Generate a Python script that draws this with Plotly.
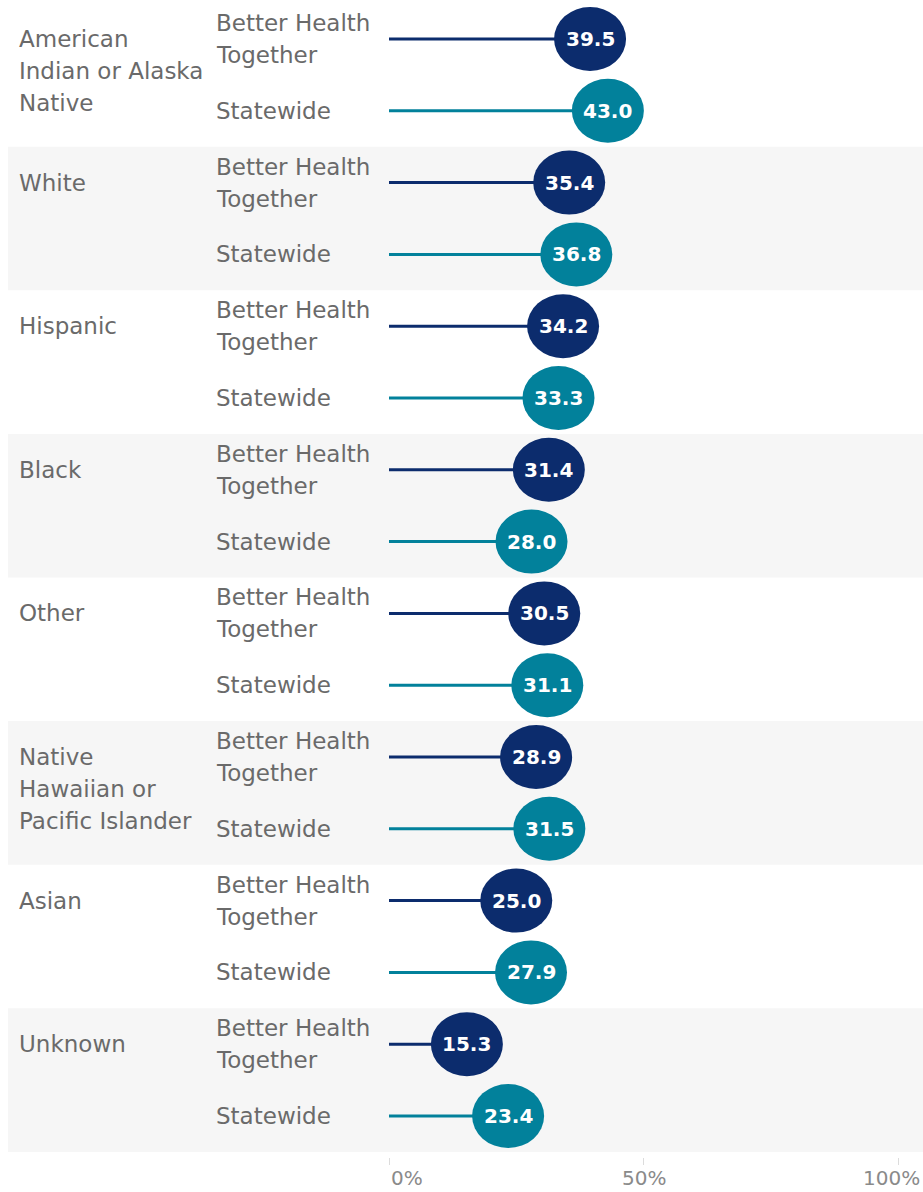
import plotly.graph_objects as go

# ---------------- data ----------------
categories = [
    "American<br>Indian or Alaska<br>Native",
    "White",
    "Hispanic",
    "Black",
    "Other",
    "Native<br>Hawaiian or<br>Pacific Islander",
    "Asian",
    "Unknown",
]
series_labels = ["Better Health<br>Together", "Statewide"]
better_health_together = [39.5, 35.4, 34.2, 31.4, 30.5, 28.9, 25.0, 15.3]
statewide = [43.0, 36.8, 33.3, 28.0, 31.1, 31.5, 27.9, 23.4]
tick_values = [0, 50, 100]
tick_labels = ["0%", "50%", "100%"]

# ---------------- layout constants ----------------
W, H = 923, 1192
PLOT_LEFT_PX = 8
ZERO_PX = 389
HUNDRED_PX = 898
ROW_PX = 71.8
FIRST_ROW_PX = 39
PLOT_BOTTOM_PX = 1157
CAT_X_PX = 20 - 3
SER_X_PX = 217 - 3

px_per_unit = (HUNDRED_PX - ZERO_PX) / 100.0
x_min = -(ZERO_PX - PLOT_LEFT_PX) / px_per_unit
x_max = 100 + (W - HUNDRED_PX) / px_per_unit

# plot area spans figure top (0) to PLOT_BOTTOM_PX
y_top = -FIRST_ROW_PX / ROW_PX
y_bottom = (PLOT_BOTTOM_PX - FIRST_ROW_PX) / ROW_PX
margin_b = H - PLOT_BOTTOM_PX
plot_w = W - PLOT_LEFT_PX

NAVY = "#0c2c6d"
TEAL = "#02819b"
BAND = "#f6f6f6"
TEXT = "#6a6a6a"
FONT = "DejaVu Sans"

series = [better_health_together, statewide]
colors = [NAVY, TEAL]

fig = go.Figure()

# stems
for s, vals in enumerate(series):
    xs, ys = [], []
    for g, v in enumerate(vals):
        r = 2 * g + s
        xs += [0, v, None]
        ys += [r, r, None]
    fig.add_trace(go.Scatter(
        x=xs, y=ys, mode="lines",
        line=dict(color=colors[s], width=3),
        hoverinfo="skip", showlegend=False,
    ))

shapes = []
annotations = []

# alternating bands
for g in range(len(categories)):
    if g % 2 == 1:
        shapes.append(dict(
            type="rect", xref="paper", yref="y",
            x0=0, x1=1, y0=2 * g - 0.5, y1=2 * g + 1.5,
            fillcolor=BAND, line=dict(width=0), layer="below",
        ))

# ellipses + values
for s, vals in enumerate(series):
    for g, v in enumerate(vals):
        r = 2 * g + s
        shapes.append(dict(
            type="circle", xref="x", yref="y",
            xsizemode="pixel", ysizemode="pixel",
            xanchor=v, yanchor=r,
            x0=-36, x1=36, y0=-32, y1=32,
            fillcolor=colors[s], line=dict(width=0), layer="above",
        ))
        annotations.append(dict(
            x=v, y=r, xref="x", yref="y", text=f"{v:.1f}",
            showarrow=False, xanchor="center", yanchor="middle",
            font=dict(family=FONT, size=20, color="white", weight="bold"),
        ))

LINE_H = 32
# category labels (first line aligned with first row of group)
for g, cat in enumerate(categories):
    for i, line in enumerate(cat.split("<br>")):
        annotations.append(dict(
            x=(CAT_X_PX - PLOT_LEFT_PX) / plot_w, y=2 * g,
            xref="paper", yref="y", text=line,
            showarrow=False, xanchor="left", yanchor="middle",
            yshift=-i * LINE_H,
            font=dict(family=FONT, size=23, color=TEXT),
        ))

# series labels
for g in range(len(categories)):
    for s, lab in enumerate(series_labels):
        lines = lab.split("<br>")
        n = len(lines)
        for i, line in enumerate(lines):
            off = (i - (n - 1) / 2) * LINE_H
            annotations.append(dict(
                x=(SER_X_PX - PLOT_LEFT_PX) / plot_w, y=2 * g + s,
                xref="paper", yref="y", text=line,
                showarrow=False, xanchor="left", yanchor="middle",
                yshift=-off,
                font=dict(family=FONT, size=23, color=TEXT),
            ))

# x tick labels
for i, (tv, tl) in enumerate(zip(tick_values, tick_labels)):
    if i == 0:
        anchor, shift = "left", 0
    elif i == len(tick_values) - 1:
        anchor, shift = "right", 24
    else:
        anchor, shift = "center", 0
    annotations.append(dict(
        x=tv, y=0, xref="x", yref="paper", text=tl,
        showarrow=False, xanchor=anchor, yanchor="middle",
        xshift=shift, yshift=-21,
        font=dict(family=FONT, size=20, color="#8a8a8a"),
    ))

fig.update_layout(
    width=W, height=H,
    margin=dict(l=PLOT_LEFT_PX, r=0, t=0, b=margin_b, pad=0),
    paper_bgcolor="white", plot_bgcolor="white",
    shapes=shapes, annotations=annotations,
    showlegend=False,
    xaxis=dict(
        range=[x_min, x_max], showgrid=False, zeroline=False,
        tickvals=tick_values, ticktext=[""] * len(tick_values),
        ticks="outside", ticklen=7, tickwidth=1, tickcolor="#dcdcdc",
        showline=False, fixedrange=True,
    ),
    yaxis=dict(
        range=[y_bottom, y_top], showgrid=False, zeroline=False,
        showticklabels=False, showline=False, fixedrange=True,
    ),
)

fig.write_html(
    "out.html",
    config={"displayModeBar": False},
    post_script="document.body.style.margin='0';document.body.style.overflow='hidden';",
)
